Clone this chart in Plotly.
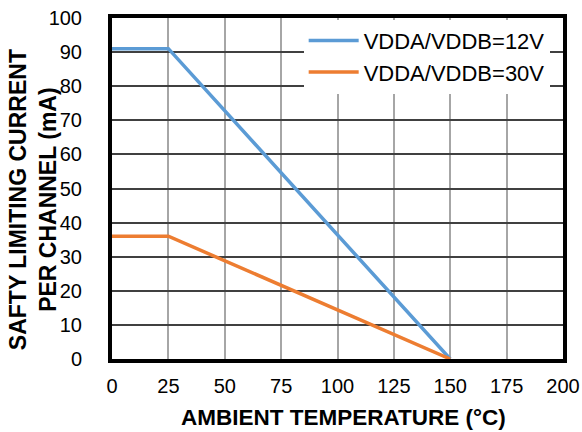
import plotly.graph_objects as go

temp = [0, 25, 150]
corrente_12v = [91, 91, 0]
corrente_30v = [36, 36, 0]
ticks_x = [0, 25, 50, 75, 100, 125, 150, 175, 200]
ticks_y = [0, 10, 20, 30, 40, 50, 60, 70, 80, 90, 100]

fig = go.Figure()
fig.add_trace(go.Scatter(
    x=temp, y=corrente_12v, mode='lines',
    name='VDDA/VDDB=12V',
    line=dict(color='#5B9BD5', width=3.5)
))
fig.add_trace(go.Scatter(
    x=temp, y=corrente_30v, mode='lines',
    name='VDDA/VDDB=30V',
    line=dict(color='#ED7D31', width=3.5)
))

fig.update_layout(
    width=582, height=432,
    margin=dict(l=112, r=19, t=18, b=73),
    plot_bgcolor='white', paper_bgcolor='white',
    font=dict(family='Liberation Sans, Arial', color='black', size=20),
    legend=dict(x=0.425, y=0.995, xanchor='left', yanchor='top',
                bgcolor='white', font=dict(size=22),
                itemwidth=50),
    showlegend=True,
)
fig.update_xaxes(
    range=[0, 200], tickvals=ticks_x, showgrid=True,
    gridcolor='#A6A6A6', gridwidth=1.5,
    showline=True, linecolor='black', linewidth=4, mirror=True,
    ticks='', zeroline=False, ticklabelstandoff=6, automargin=False,
)
fig.update_yaxes(
    range=[0, 100], tickvals=ticks_y, showgrid=True,
    gridcolor='#404040', gridwidth=1.5,
    showline=True, linecolor='black', linewidth=4, mirror=True,
    ticks='', zeroline=False, ticklabelstandoff=22, automargin=False,
)

# titulos dos eixos como anotacoes para posicionar igual ao original
fig.add_annotation(text='<b>AMBIENT TEMPERATURE (°C)</b>', xref='paper', yref='paper',
                   x=0.513, y=-0.173, showarrow=False, font=dict(size=22.5),
                   xanchor='center', yanchor='middle')
fig.add_annotation(text='<b>SAFTY LIMITING CURRENT<br>PER CHANNEL (mA)</b>', xref='paper', yref='paper',
                   x=-0.175, y=0.466, showarrow=False, font=dict(size=23), textangle=-90,
                   xanchor='center', yanchor='middle')

# tira a margem padrao do body para a figura ocupar a janela toda
fig.write_html("out.html", config={'displayModeBar': False},
               post_script="document.body.style.margin='0';")
